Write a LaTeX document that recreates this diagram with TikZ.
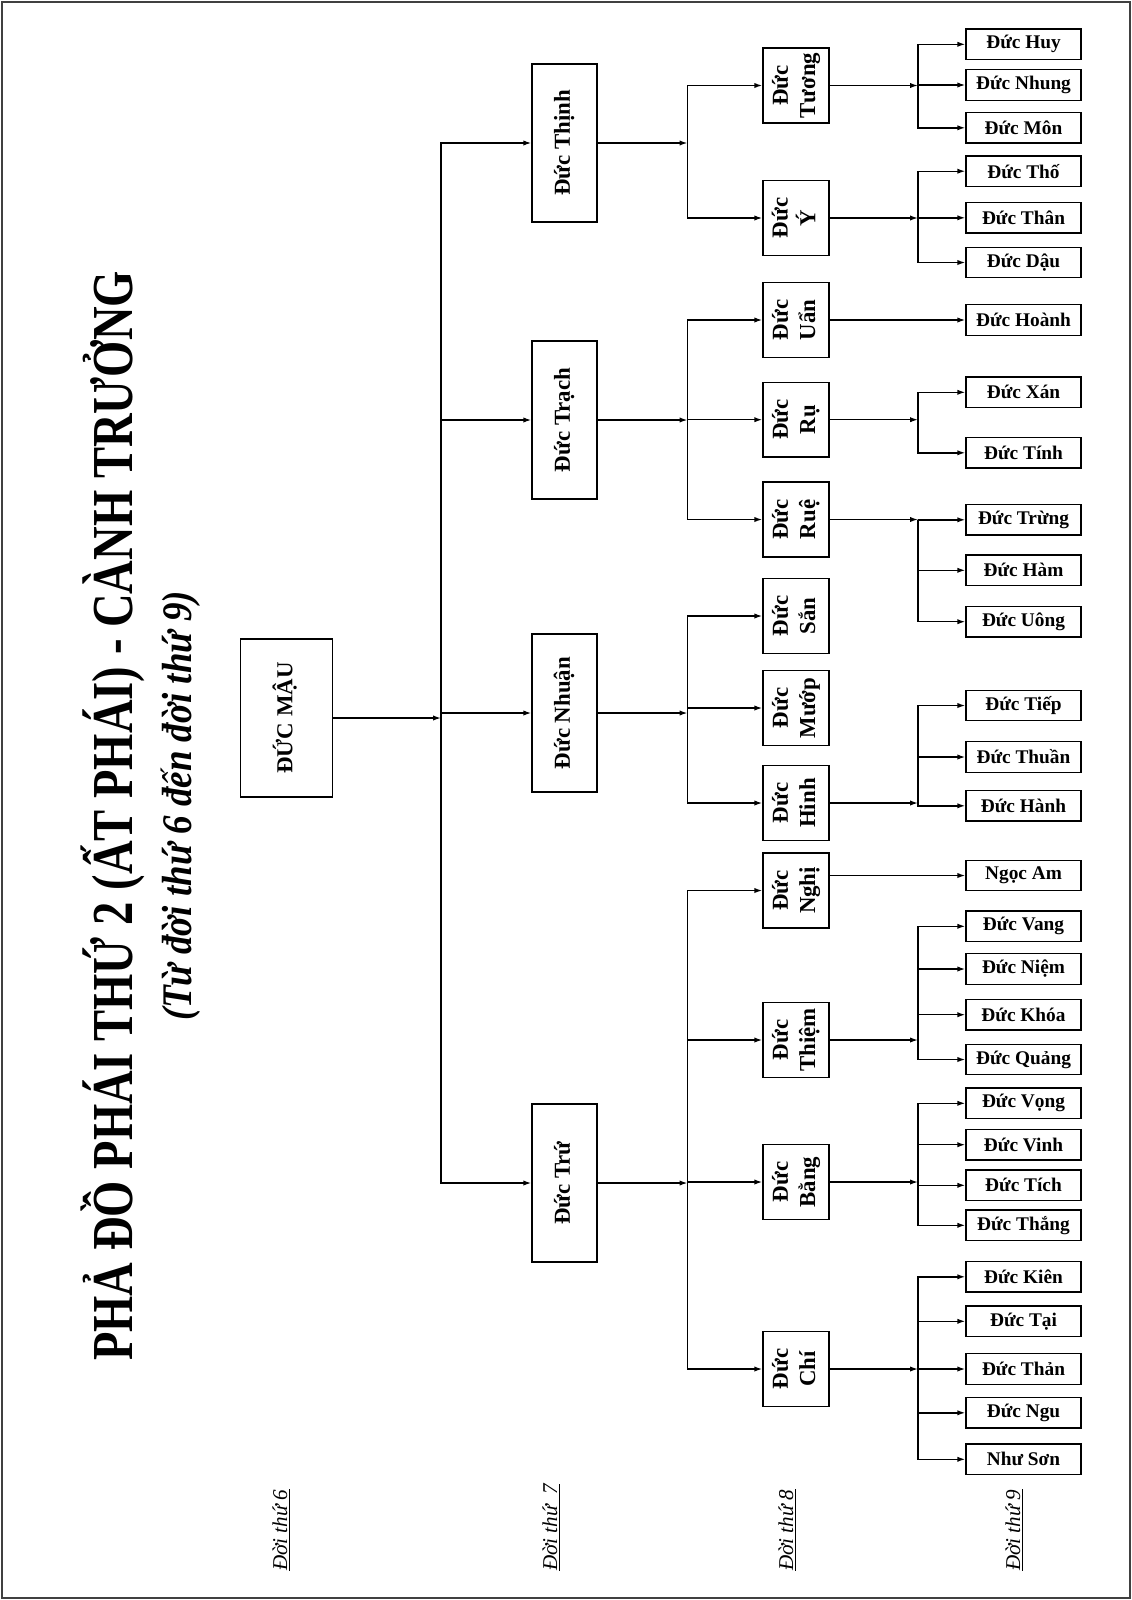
\documentclass[tikz,border=0pt]{standalone}
\usepackage{fontspec}
\setmainfont{Liberation Serif}
\usepackage{graphicx}
\usetikzlibrary{arrows.meta, positioning}

\newcommand{\vlabel}[1]{\rotatebox{90}{\begin{tabular}{@{}c@{}}#1\end{tabular}}}

\begin{document}
\begin{tikzpicture}[x=0.02cm, y=-0.02cm,
    box/.style={draw, line width=0.8pt, inner sep=0pt, font=\bfseries\fontsize{13}{15.5}\selectfont},
    gen7/.style={box, minimum width=1.3cm, minimum height=3.16cm},
    gen8/.style={box, minimum width=1.32cm, minimum height=1.5cm},
    leaf/.style={box, minimum width=2.3cm, minimum height=0.61cm, font=\bfseries\fontsize{11}{12}\selectfont},
    link/.style={line width=0.8pt, -{Latex[length=4.5pt,width=3pt]}},
    genlabel/.style={rotate=90, anchor=base west, font=\itshape\fontsize{12}{14}\selectfont}]
    \useasboundingbox (0,0) rectangle (1132,1600);
    % frame
    \draw[line width=1.2pt, black!75] (2,2) rectangle (1130,1598);
    % title
    \node[rotate=90, anchor=base] (title) at (132,816)
      {\resizebox{21.8cm}{\height}{\fontsize{33}{36}\selectfont\bfseries PHẢ ĐỒ PHÁI THỨ 2 (ẤT PHÁI) - CÀNH TRƯỞNG}};
    \node[rotate=90, anchor=base] (subtitle) at (191,806)
      {\resizebox{8.6cm}{\height}{\fontsize{24}{28}\selectfont\bfseries\itshape (Từ đời thứ 6 đến đời thứ 9)}};
    % generation labels
    \node[genlabel] (g6) at (287,1577) {\underline{Đời thứ 6}};
    \node[genlabel] (g7) at (557,1577) {\underline{Đời thứ\ \ 7}};
    \node[genlabel] (g8) at (793,1577) {\underline{Đời thứ 8}};
    \node[genlabel] (g9) at (1020,1577) {\underline{Đời thứ 9}};
    % generation 6
    \node[box, minimum width=1.84cm, minimum height=3.16cm] (mau) at (286.5,718) {\vlabel{ĐỨC MẬU}};
    \coordinate (trunk) at (441,718);
    % generation 7
    \node[gen7] (thinh) at (564.5,143) {\vlabel{Đức Thịnh}};
    \node[gen7] (trach) at (564.5,420) {\vlabel{Đức Trạch}};
    \node[gen7] (nhuan) at (564.5,713) {\vlabel{Đức Nhuận}};
    \node[gen7] (tru) at (564.5,1183) {\vlabel{Đức Trứ}};
    \foreach \p/\y in {thinh/143, trach/420, nhuan/713, tru/1183}
      \coordinate (j\p) at (687.5,\y);
    % generation 8
    \node[gen8] (tuong) at (796,85.5) {\vlabel{Đức\\Tương}};
    \node[gen8] (yy) at (796,218) {\vlabel{Đức\\Ý}};
    \node[gen8] (uan) at (796,320) {\vlabel{Đức\\Uẩn}};
    \node[gen8] (ru) at (796,419.7) {\vlabel{Đức\\Rụ}};
    \node[gen8] (rue) at (796,519.5) {\vlabel{Đức\\Ruệ}};
    \node[gen8] (san) at (796,616) {\vlabel{Đức\\Sắn}};
    \node[gen8] (muop) at (796,708) {\vlabel{Đức\\Mướp}};
    \node[gen8] (hinh) at (796,803) {\vlabel{Đức\\Hinh}};
    \node[gen8] (nghi) at (796,890.5) {\vlabel{Đức\\Nghị}};
    \node[gen8] (thiem) at (796,1040) {\vlabel{Đức\\Thiệm}};
    \node[gen8] (bang) at (796,1182) {\vlabel{Đức\\Bằng}};
    \node[gen8] (chi) at (796,1369) {\vlabel{Đức\\Chí}};
    \foreach \p/\y in {tuong/85.5, yy/218, ru/419.7, rue/519.5, hinh/803, thiem/1040, bang/1182, chi/1369}
      \coordinate (j\p) at (918,\y);
    % generation 9
    \foreach \nm/\y/\txt in {huy/44.3/Đức Huy, nhung/85/Đức Nhung, mon/127.8/Đức Môn,
        tho/171.2/Đức Thố, than/217.8/Đức Thân, dau/262.5/Đức Dậu, hoanh/320/Đức Hoành,
        xan/392.3/Đức Xán, tinh/452.8/Đức Tính, trung/519.8/Đức Trừng, ham/570.3/Đức Hàm,
        uong/621.7/Đức Uông, tiep/705.5/Đức Tiếp, thuan/757/Đức Thuần, hanh/805.8/Đức Hành,
        am/875.5/Ngọc Am, vang/926.3/Đức Vang, niem/969/Đức Niệm, khoa/1014.7/Đức Khóa,
        quang/1059.5/Đức Quảng, vong/1103.3/Đức Vọng, vinh/1144.7/Đức Vinh, tich/1185.3/Đức Tích,
        thang/1225.3/Đức Thắng, kien/1276.8/Đức Kiên, tai/1321.3/Đức Tại, than2/1369/Đức Thản,
        ngu/1412.8/Đức Ngu, son/1459.3/Như Sơn}
      \node[leaf] (\nm) at (1023.5,\y) {\txt};
    % connectors
    \draw[link] (mau) -- (trunk);
    \foreach \c in {thinh, trach, nhuan, tru}
      \draw[link] (trunk) |- (\c);
    \foreach \p in {thinh, trach, nhuan, tru, tuong, yy, ru, rue, hinh, thiem, bang, chi}
      \draw[link] (\p) -- (j\p);
    \foreach \j/\c in {jthinh/tuong, jthinh/yy, jtrach/uan, jtrach/ru, jtrach/rue,
        jnhuan/san, jnhuan/muop, jnhuan/hinh, jtru/nghi, jtru/thiem, jtru/bang, jtru/chi,
        jtuong/huy, jtuong/nhung, jtuong/mon, jyy/tho, jyy/than, jyy/dau, jru/xan, jru/tinh,
        jrue/trung, jrue/ham, jrue/uong, jhinh/tiep, jhinh/thuan, jhinh/hanh,
        jthiem/vang, jthiem/niem, jthiem/khoa, jthiem/quang, jbang/vong, jbang/vinh,
        jbang/tich, jbang/thang, jchi/kien, jchi/tai, jchi/than2, jchi/ngu, jchi/son}
      \draw[link] (\j) |- (\c);
    \draw[link] (uan) -- (hoanh);
    \draw[link] (nghi.east |- am) -- (am);
\end{tikzpicture}
\end{document}
